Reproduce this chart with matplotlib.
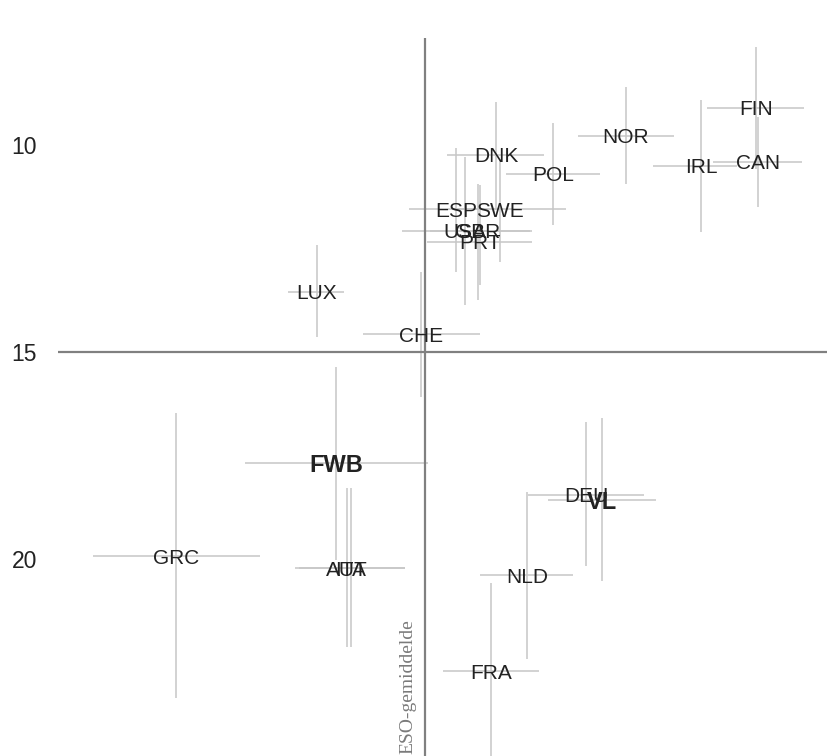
import matplotlib
matplotlib.use("Agg")
import matplotlib.pyplot as plt
import numpy as np

# --- data (x relatief t.o.v. ESO-gemiddelde, y = rangschikking) ---
landen = ["FIN", "CAN", "IRL", "NOR", "POL", "DNK", "ESP", "SWE", "USA", "GBR",
          "PRT", "LUX", "CHE", "FWB", "GRC", "AUT", "ITA", "DEU", "VL", "NLD", "FRA"]
x    = [33.1, 33.3, 27.6, 20.1, 12.8, 7.1, 3.1, 7.5, 4.0, 5.3,
        5.5, -10.8, -0.4, -8.9, -24.9, -7.8, -7.4, 16.1, 17.7, 10.2, 6.6]
x_lo = [28.2, 28.8, 22.8, 15.3, 8.1, 2.2, -1.6, 3.0, -2.3, 0.5,
        0.2, -13.7, -6.2, -18.0, -33.2, -13.0, -12.6, 10.3, 12.3, 5.5, 1.8]
x_hi = [37.9, 37.7, 31.2, 24.9, 17.5, 11.9, 7.8, 14.1, 10.5, 10.7,
        10.7, -8.1, 5.5, 0.3, -16.5, -2.0, -2.0, 21.9, 23.1, 14.8, 11.4]
y    = [9.11, 10.41, 10.51, 9.78, 10.70, 10.24, 11.55, 11.55, 12.08, 12.08,
        12.34, 13.55, 14.57, 17.68, 19.93, 20.22, 20.22, 18.45, 18.57, 20.39, 22.71]
y_lo = [7.63, 9.32, 8.91, 8.60, 9.47, 8.96, 10.07, 10.36, 10.29, 10.94,
        10.97, 12.42, 13.07, 15.36, 16.47, 18.29, 18.29, 16.69, 16.59, 18.38, 20.58]
y_hi = [10.58, 11.50, 12.10, 10.94, 11.93, 11.57, 13.07, 12.83, 13.86, 13.74,
        13.38, 14.64, 16.09, 20.02, 23.36, 22.13, 22.13, 20.17, 20.53, 22.42, 24.83]
vet = ["FWB", "VL"]

x = np.array(x); y = np.array(y)
xerr = [x - np.array(x_lo), np.array(x_hi) - x]
yerr = [y - np.array(y_lo), np.array(y_hi) - y]

# --- grafiek ---
fig = plt.figure(figsize=(8.27, 7.56), dpi=100)
ax = fig.add_axes([58 / 827, 0, 1 - 58 / 827, 1 - 38 / 756])

ax.errorbar(x, y, xerr=xerr, yerr=yerr, fmt="none", ecolor="#c6c6c6",
            elinewidth=1.1, capsize=0, zorder=1)

ax.axhline(15, color="#808080", linewidth=1.6, zorder=2)
ax.axvline(0, color="#808080", linewidth=1.6, zorder=2)

for land, xi, yi in zip(landen, x, y):
    if land in vet:
        ax.text(xi, yi, land, ha="center", va="center_baseline", fontsize=17,
                fontweight="bold", color="#222222", family="Liberation Sans", zorder=3)
    else:
        ax.text(xi, yi, land, ha="center", va="center_baseline", fontsize=15,
                color="#222222", family="Liberation Sans", zorder=3)

ax.text(-1.7, 21.45, "ESO-gemiddelde", rotation=90, ha="center", va="top",
        fontsize=14, color="#7a7a7a", family="Liberation Serif")

ax.set_xlim(-36.7, 40.2)
ax.set_ylim(24.76, 7.42)
ax.set_yticks([10, 15, 20])
ax.set_xticks([])
ax.tick_params(axis="y", length=0, pad=15, labelsize=16.5, labelcolor="#222222")
for lbl in ax.get_yticklabels():
    lbl.set_family("Liberation Sans")
for s in ax.spines.values():
    s.set_visible(False)

plt.savefig("out.png", dpi=100)
